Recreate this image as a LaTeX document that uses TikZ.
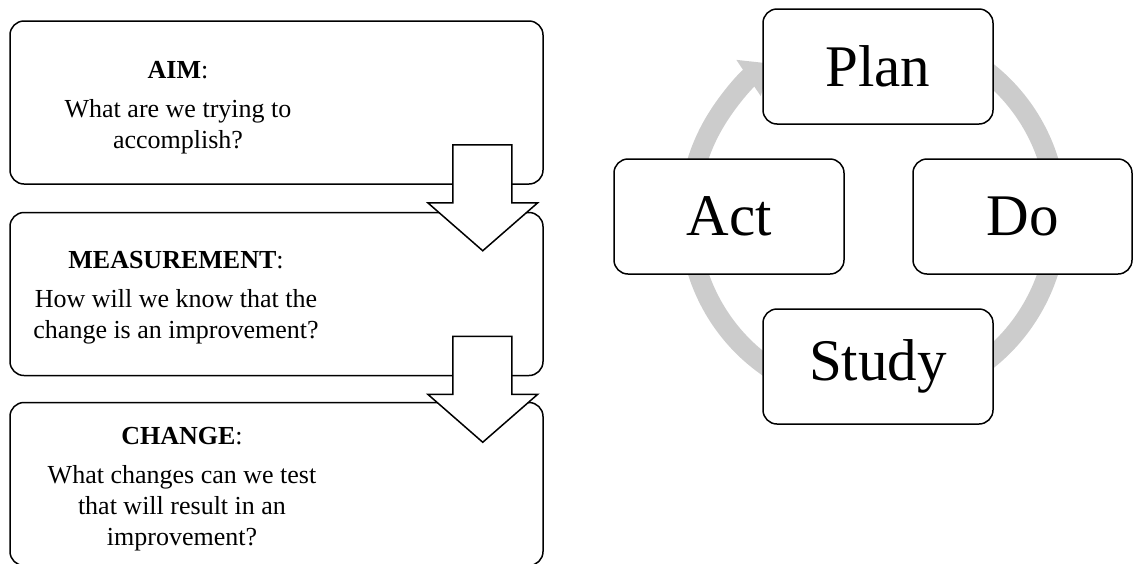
\documentclass[tikz,border=0pt]{standalone}
\usepackage{fontspec}
\setmainfont{Liberation Serif}
\usetikzlibrary{arrows.meta}

\begin{document}
\begin{tikzpicture}[x=1pt,y=-1pt,
	stepcard/.style={draw, line width=1.5pt, rounded corners=14pt, fill=white,
		minimum width=533pt, minimum height=163pt, inner sep=0pt},
	question/.style={align=center, inner sep=0pt, font=\fontsize{26}{31}\selectfont},
	blockarrow/.style={draw, line width=1.5pt, fill=white, line join=miter},
	pdsa/.style={draw, line width=1.5pt, rounded corners=14pt, fill=white,
		minimum width=230pt, minimum height=115pt, inner sep=0pt,
		font=\fontsize{59}{65}\selectfont},
	ring/.style={line width=20pt, draw=gray!40, -{Triangle[length=26pt,width=42pt]}}
	]
	\useasboundingbox (0,0) rectangle (1133,563);
	\clip (0,0) rectangle (1133,563);

	%% model for improvement
	\node[stepcard] (aim) at (276.5,102.5) {};
	\node[stepcard] (meas) at (276.5,294) {};
	\node[stepcard] (chg) at (276.5,484) {};

	\node[question] (aimtxt) at (178,108) {\textbf{AIM}:\\[8pt] What are we trying to\\ accomplish?};
	\node[question] (meastxt) at (176,297.5) {\textbf{MEASUREMENT}:\\[8pt] How will we know that the\\ change is an improvement?};
	\node[question] (chgtxt) at (182,489) {\textbf{CHANGE}:\\[8pt] What changes can we test\\ that will result in an\\ improvement?};

	\foreach \src in {aim, meas} {
		\draw[blockarrow] ([shift={(-91,-40)}]\src.south east) -- ++(59,0) -- ++(0,58)
			-- ++(26,0) -- ++(-55,48) -- ++(-55,-48) -- ++(25,0) -- cycle;
	}

	%% pdsa cycle
	\coordinate (hub) at (873,216);
	\draw[ring] (hub) ++(60:184pt) arc[start angle=60, end angle=-236, radius=184pt];

	\node[pdsa] (plan) at (878,66.5) {Plan};
	\node[pdsa] (act) at (729,216.5) {Act};
	\node[pdsa, minimum width=219pt] (do) at (1022.5,216.5) {Do};
	\node[pdsa] (study) at (878,366.5) {Study};
\end{tikzpicture}
\end{document}
